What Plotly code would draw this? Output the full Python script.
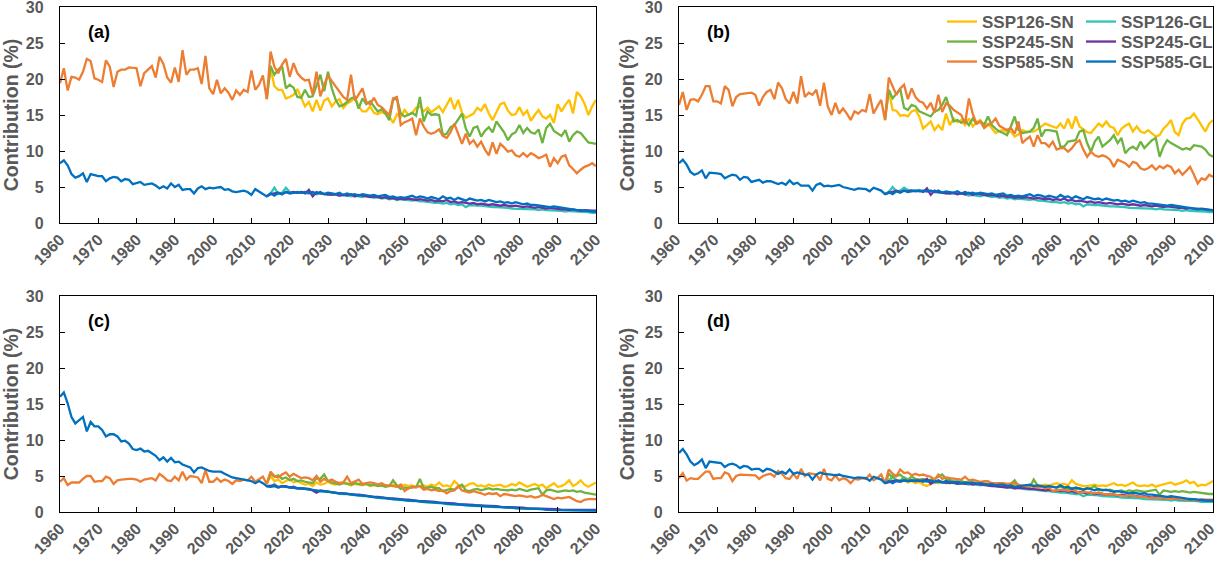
import plotly.graph_objects as go

YEARS_HIST = list(range(1960, 2015))
YEARS_FUT = list(range(2015, 2101))
SERIES = ["SSP126-SN", "SSP126-GL", "SSP245-SN", "SSP245-GL", "SSP585-SN", "SSP585-GL"]
PANEL_LABELS = ["(a)", "(b)", "(c)", "(d)"]

# ---------------- panel (a) ----------------
a_hist_sn = [19.4, 21.5, 18.4, 20.3, 20.2, 19.9, 21.0, 22.8, 22.5, 20.1,
             19.9, 19.6, 22.6, 21.7, 18.9, 21.0, 21.3, 21.3, 21.6, 21.6,
             21.5, 19.0, 20.8, 21.3, 21.8, 20.2, 23.1, 22.1, 20.2, 19.5,
             21.6, 19.6, 24.0, 20.6, 21.3, 21.3, 21.5, 19.3, 23.2, 18.7,
             17.9, 19.9, 18.0, 18.7, 18.1, 17.1, 18.4, 17.8, 18.5, 18.2,
             21.2, 18.5, 19.2, 20.5, 17.2]
a_hist_gl = [8.3, 8.7, 8.0, 6.8, 6.3, 6.5, 6.9, 5.7, 6.8, 6.6,
             6.5, 6.5, 5.8, 6.2, 6.4, 6.3, 5.8, 6.1, 6.0, 5.4,
             5.5, 5.7, 5.3, 5.4, 5.5, 5.2, 4.8, 5.1, 4.8, 5.5,
             5.0, 5.3, 4.6, 4.7, 4.7, 4.1, 4.8, 5.1, 4.7, 4.9,
             4.8, 4.9, 5.0, 4.6, 4.7, 4.4, 4.3, 4.4, 4.5, 4.3,
             3.9, 4.7, 4.4, 4.1, 3.7]
a_sn126 = [21.5, 19.0, 18.5, 18.5, 17.3, 17.5, 17.8, 18.6, 17.5, 16.2,
           16.8, 15.5, 17.1, 15.6, 17.0, 17.3, 16.2, 16.9, 17.2, 16.0,
           16.6, 16.9, 17.5, 16.2, 15.5, 15.5, 16.2, 15.3, 15.1, 15.4,
           15.2, 14.8, 13.9, 15.1, 14.7, 15.7, 15.0, 15.3, 16.0, 16.2,
           15.5, 16.0, 15.4, 15.8, 16.2, 15.4, 16.5, 17.4, 15.8, 17.1,
           15.3, 14.6, 14.9, 15.2, 16.0, 15.6, 16.5, 15.2, 14.3, 15.4,
           16.5, 16.7, 15.6, 15.0, 15.1, 16.1, 15.0, 15.6, 14.2, 15.0,
           15.7, 14.8, 14.5, 15.0, 13.9, 16.5, 15.5, 16.4, 17.1, 15.2,
           18.2, 17.6, 16.6, 15.0, 16.2, 17.1]
a_sn245 = [21.8, 20.6, 21.3, 21.8, 18.7, 19.2, 18.8, 17.5, 17.4, 18.5,
           17.5, 17.6, 19.2, 20.6, 18.3, 21.0, 18.7, 17.1, 16.2, 16.4,
           16.8, 17.3, 17.5, 15.9, 17.3, 16.5, 16.9, 16.2, 15.5, 15.8,
           15.2, 14.3, 17.1, 17.3, 15.2, 14.8, 15.0, 15.3, 14.9, 17.5,
           14.1, 15.5, 15.0, 15.1, 15.0, 12.2, 12.4, 13.3, 13.6, 14.5,
           15.2, 13.1, 12.0, 13.2, 13.4, 12.0, 12.8, 13.3, 12.6, 14.1,
           13.4, 12.6, 11.5, 12.3, 12.6, 13.6, 12.5, 13.2, 12.6, 12.4,
           13.0, 11.1, 13.2, 13.8, 12.8, 12.5, 12.1, 12.9, 11.3, 12.2,
           12.7, 12.5, 11.9, 11.2, 11.1, 11.0]
a_sn585 = [23.8, 21.7, 20.8, 22.0, 22.8, 20.3, 22.2, 20.8, 20.2, 19.8,
           19.9, 17.8, 21.0, 17.6, 19.2, 20.5, 19.7, 19.0, 18.2, 17.5,
           17.1, 20.6, 17.0, 17.8, 18.7, 16.8, 16.5, 17.4, 16.4, 16.1,
           15.5, 15.0, 17.3, 17.5, 13.6, 14.0, 14.2, 14.5, 12.2, 14.5,
           13.4, 12.6, 12.4, 12.6, 13.0, 12.1, 11.8, 12.6, 13.8, 12.5,
           11.0, 12.4, 11.0, 11.5, 10.6, 11.3, 10.2, 9.4, 11.2, 9.6,
           11.0, 10.5, 9.9, 10.1, 9.4, 9.2, 9.7, 9.2, 9.7, 9.4,
           9.0, 9.2, 9.5, 7.8, 9.0, 8.3, 9.2, 9.4, 8.0, 7.5,
           6.9, 7.4, 7.8, 8.0, 8.3, 7.9]
a_gl126 = [4.1, 4.9, 4.0, 4.2, 4.9, 4.3, 4.2, 4.2, 4.3, 4.2,
           4.1, 4.2, 4.0, 4.1, 4.0, 3.9, 4.0, 3.9, 3.8, 3.9,
           3.8, 3.7, 3.8, 3.7, 3.6, 3.8, 3.6, 3.5, 3.6, 3.4,
           3.5, 3.3, 3.4, 3.2, 3.3, 3.2, 3.2, 3.1, 3.2, 3.0,
           3.0, 2.9, 2.9, 2.8, 2.8, 2.7, 2.8, 2.6, 2.7, 2.5,
           2.6, 2.2, 2.5, 2.4, 2.4, 2.4, 2.3, 2.3, 2.2, 2.2,
           2.2, 2.1, 2.1, 2.0, 2.0, 2.0, 2.0, 1.9, 1.9, 1.9,
           1.8, 1.9, 1.8, 1.8, 1.7, 1.8, 1.7, 1.6, 1.7, 1.6,
           1.6, 1.5, 1.5, 1.5, 1.4, 1.4]
a_gl245 = [4.0, 4.1, 4.2, 4.0, 4.3, 4.2, 4.3, 4.2, 4.3, 4.1,
           4.6, 3.7, 4.3, 4.1, 4.0, 4.0, 3.9, 4.0, 3.8, 3.9,
           3.8, 4.0, 3.7, 3.9, 3.8, 3.7, 3.6, 3.7, 3.6, 3.5,
           3.6, 3.4, 3.5, 3.3, 3.4, 3.3, 3.4, 3.3, 3.2, 3.3,
           3.2, 3.1, 3.2, 3.0, 3.1, 3.0, 3.2, 2.9, 3.0, 2.8,
           2.9, 2.8, 2.7, 2.8, 2.6, 2.7, 2.6, 2.5, 2.6, 2.5,
           2.4, 2.5, 2.4, 2.3, 2.4, 2.3, 2.2, 2.3, 2.2, 2.1,
           2.2, 2.1, 2.0, 2.1, 2.0, 2.0, 1.9, 1.9, 1.8, 1.9,
           1.8, 1.7, 1.8, 1.7, 1.7, 1.7]
a_gl585 = [4.1, 3.8, 4.2, 4.0, 4.3, 4.1, 4.2, 4.3, 4.2, 4.3,
           4.2, 4.3, 4.1, 4.3, 4.0, 4.2, 4.1, 4.0, 4.2, 3.9,
           4.1, 3.9, 4.0, 3.8, 4.0, 3.9, 3.8, 3.9, 3.7, 3.8,
           3.9, 3.6, 3.7, 3.5, 3.6, 3.5, 3.7, 3.8, 3.5, 3.7,
           3.6, 3.4, 3.6, 3.5, 3.3, 3.7, 3.4, 3.5, 3.2, 3.5,
           3.3, 3.1, 3.4, 3.2, 3.1, 3.2, 3.0, 3.2, 3.1, 2.9,
           3.0, 2.8, 2.9, 2.7, 2.9, 2.7, 2.6, 2.7, 2.5, 2.5,
           2.4, 2.4, 2.3, 2.2, 2.3, 2.2, 2.1, 2.0, 2.0, 1.9,
           1.8, 1.8, 1.7, 1.7, 1.6, 1.6]

# ---------------- panel (b) ----------------
b_hist_sn = [16.4, 18.2, 15.7, 17.1, 17.2, 16.9, 17.8, 19.0, 19.0, 16.9,
             16.9, 16.6, 19.0, 18.5, 16.2, 17.5, 17.9, 18.0, 18.0, 18.1,
             17.8, 16.3, 17.5, 18.2, 18.5, 17.2, 19.5, 18.7, 17.2, 16.6,
             18.2, 16.6, 20.4, 17.5, 18.1, 17.8, 18.5, 16.3, 19.5, 16.2,
             15.0, 16.7, 15.2, 15.9, 15.2, 14.3, 15.5, 15.2, 15.7, 15.5,
             17.9, 15.2, 16.2, 17.1, 14.3]
b_hist_gl = [8.3, 8.8, 8.1, 7.1, 6.7, 6.9, 7.3, 6.2, 7.0, 7.0,
             6.9, 6.8, 6.2, 6.5, 6.7, 6.6, 6.0, 6.4, 6.3, 5.7,
             5.8, 6.0, 5.6, 5.8, 5.8, 5.6, 5.4, 5.6, 5.3, 5.9,
             5.4, 5.6, 5.2, 5.2, 5.2, 4.5, 5.3, 5.5, 5.1, 5.2,
             5.1, 5.2, 5.3, 5.0, 4.9, 4.7, 4.6, 4.8, 4.8, 4.7,
             4.4, 4.9, 4.7, 4.5, 4.0]
b_sn126 = [18.4, 15.7, 15.6, 14.9, 15.0, 14.8, 15.5, 15.7, 14.8, 13.1,
           13.6, 14.1, 12.9, 13.6, 12.9, 15.2, 13.6, 14.5, 14.0, 14.3,
           13.6, 14.5, 13.4, 14.0, 14.3, 13.6, 13.8, 13.1, 12.5, 12.8,
           12.9, 12.7, 12.7, 12.0, 12.3, 12.9, 12.7, 12.7, 12.7, 13.0,
           13.4, 13.8, 13.6, 13.4, 13.2, 13.8, 13.1, 14.5, 13.1, 14.8,
           13.4, 13.0, 12.6, 12.5, 13.2, 13.8, 13.4, 14.1, 13.4, 13.2,
           12.2, 13.1, 13.5, 13.8, 12.7, 13.4, 12.7, 12.5, 12.9, 12.4,
           12.0, 12.2, 13.1, 13.6, 14.3, 12.6, 12.2, 13.8, 14.5, 14.6,
           15.2, 14.4, 13.6, 12.7, 13.8, 14.3]
b_sn245 = [18.5, 17.3, 18.0, 18.6, 16.0, 15.7, 16.4, 16.2, 15.5, 15.3,
           15.0, 14.8, 15.5, 15.7, 16.4, 17.5, 15.9, 14.1, 14.3, 13.9,
           14.3, 13.6, 14.5, 13.8, 14.1, 13.6, 14.8, 13.6, 13.1, 12.7,
           12.5, 12.2, 13.4, 14.8, 12.9, 12.5, 12.6, 12.7, 13.2, 14.5,
           12.0, 12.9, 12.9, 12.8, 12.7, 10.6, 10.6, 11.3, 11.4, 11.5,
           12.7, 12.9, 11.1, 9.9, 11.3, 12.0, 10.6, 11.0, 11.5, 12.2,
           11.1, 11.8, 9.7, 10.3, 10.6, 10.2, 11.3, 10.4, 10.9, 11.5,
           11.8, 9.2, 10.6, 11.5, 11.1, 10.8, 10.4, 10.2, 10.4, 10.2,
           10.8, 10.7, 10.6, 10.2, 9.5, 9.2]
b_sn585 = [20.2, 19.0, 17.8, 18.7, 19.2, 17.2, 18.7, 17.5, 16.9, 16.7,
           15.9, 16.7, 15.3, 17.8, 15.4, 16.6, 16.3, 15.7, 15.4, 15.0,
           13.8, 17.3, 15.2, 13.8, 14.1, 13.2, 13.6, 13.9, 14.5, 13.5,
           13.2, 12.9, 13.2, 12.4, 14.1, 11.1, 11.6, 12.0, 10.6, 12.2,
           11.1, 11.1, 10.6, 11.3, 10.2, 10.4, 10.4, 9.9, 10.4, 11.1,
           11.5, 10.2, 9.2, 9.9, 9.4, 9.2, 9.4, 9.2, 8.8, 7.8,
           8.8, 8.5, 8.3, 7.8, 8.5, 8.3, 7.6, 7.4, 7.6, 8.0,
           7.4, 7.9, 7.6, 8.0, 7.8, 6.9, 7.4, 6.7, 7.2, 7.8,
           6.7, 5.5, 6.2, 6.0, 6.7, 6.4]
b_gl126 = [4.3, 5.0, 4.4, 4.5, 4.9, 4.6, 4.5, 4.5, 4.6, 4.4,
           4.4, 4.5, 4.3, 4.3, 4.2, 4.1, 4.2, 4.1, 4.0, 4.1,
           3.9, 3.8, 3.9, 3.8, 3.7, 3.9, 3.7, 3.6, 3.7, 3.5,
           3.6, 3.4, 3.5, 3.3, 3.4, 3.3, 3.3, 3.2, 3.3, 3.1,
           3.1, 3.0, 3.0, 2.9, 2.9, 2.8, 2.9, 2.7, 2.8, 2.6,
           2.7, 2.3, 2.6, 2.5, 2.5, 2.5, 2.4, 2.4, 2.3, 2.3,
           2.3, 2.2, 2.2, 2.1, 2.1, 2.1, 2.1, 2.0, 2.0, 2.0,
           1.9, 2.0, 1.9, 1.9, 1.8, 1.9, 1.8, 1.7, 1.8, 1.7,
           1.7, 1.6, 1.6, 1.6, 1.5, 1.5]
b_gl245 = [4.2, 4.4, 4.5, 4.3, 4.5, 4.4, 4.5, 4.4, 4.5, 4.3,
           4.8, 3.9, 4.5, 4.3, 4.2, 4.2, 4.1, 4.2, 4.0, 4.1,
           4.0, 4.2, 3.9, 4.1, 4.0, 3.9, 3.8, 3.9, 3.8, 3.7,
           3.8, 3.6, 3.7, 3.5, 3.6, 3.5, 3.6, 3.5, 3.4, 3.5,
           3.4, 3.3, 3.4, 3.2, 3.3, 3.2, 3.4, 3.1, 3.2, 3.0,
           3.1, 3.0, 2.9, 3.0, 2.8, 2.9, 2.8, 2.7, 2.8, 2.7,
           2.6, 2.7, 2.6, 2.5, 2.6, 2.5, 2.4, 2.5, 2.4, 2.3,
           2.4, 2.3, 2.2, 2.3, 2.2, 2.2, 2.1, 2.1, 2.0, 2.1,
           2.0, 1.9, 2.0, 1.9, 1.9, 1.8]
b_gl585 = [4.3, 4.0, 4.4, 4.2, 4.5, 4.3, 4.4, 4.5, 4.4, 4.5,
           4.4, 4.5, 4.3, 4.5, 4.2, 4.4, 4.3, 4.2, 4.4, 4.1,
           4.3, 4.1, 4.2, 4.0, 4.2, 4.1, 4.0, 4.1, 3.9, 4.0,
           4.1, 3.8, 3.9, 3.7, 3.8, 3.7, 3.9, 4.0, 3.7, 3.9,
           3.8, 3.6, 3.8, 3.7, 3.5, 3.9, 3.6, 3.7, 3.4, 3.7,
           3.5, 3.3, 3.6, 3.4, 3.3, 3.4, 3.2, 3.4, 3.3, 3.1,
           3.2, 3.0, 3.1, 2.9, 3.1, 2.9, 2.8, 2.9, 2.7, 2.7,
           2.6, 2.6, 2.5, 2.4, 2.5, 2.4, 2.3, 2.2, 2.2, 2.1,
           2.0, 2.0, 1.9, 1.9, 1.8, 1.8]

# ---------------- panel (c) ----------------
c_hist_sn = [4.2, 4.7, 3.75, 4.1, 4.1, 4.1, 4.6, 5.0, 5.0, 4.2,
             4.3, 4.3, 4.9, 4.7, 3.9, 4.4, 4.5, 4.6, 4.6, 4.6,
             4.5, 4.2, 4.5, 4.6, 4.7, 4.4, 5.3, 4.9, 4.4, 4.3,
             4.9, 4.4, 5.6, 4.5, 5.0, 4.9, 4.8, 4.0, 5.8, 4.2,
             4.2, 4.7, 4.2, 4.5, 4.3, 3.9, 4.4, 4.3, 4.5, 4.4,
             4.9, 4.2, 4.5, 4.9, 3.9]
c_hist_gl = [16.0, 16.6, 15.1, 13.2, 12.3, 12.8, 13.2, 11.2, 12.5, 11.9,
             11.9, 11.4, 10.5, 10.8, 10.8, 10.5, 9.8, 9.9, 9.5, 8.75,
             8.6, 8.8, 8.4, 8.5, 8.2, 7.8, 7.2, 7.6, 7.0, 7.5,
             6.9, 7.0, 6.6, 6.4, 6.2, 5.5, 6.1, 6.2, 5.9, 5.7,
             5.6, 5.6, 5.6, 5.3, 5.0, 4.8, 4.7, 4.6, 4.6, 4.4,
             4.3, 4.0, 4.3, 4.0, 3.6]
c_sn126 = [5.0, 4.3, 4.5, 4.0, 4.3, 4.6, 4.1, 4.3, 4.0, 3.8,
           3.9, 3.6, 4.1, 3.8, 3.9, 4.2, 3.9, 3.8, 4.0, 4.1,
           4.0, 3.7, 3.9, 3.8, 3.7, 3.9, 3.6, 3.7, 3.8, 3.6,
           3.7, 3.6, 3.8, 3.5, 3.6, 3.8, 3.6, 3.7, 3.5, 3.6,
           3.7, 3.5, 3.8, 3.6, 4.1, 3.6, 3.7, 3.5, 4.3, 3.8,
           3.5, 3.6, 3.9, 4.0, 3.6, 3.7, 3.5, 3.8, 3.6, 3.7,
           3.8, 3.5, 3.6, 3.9, 3.7, 4.1, 3.8, 3.5, 3.7, 3.9,
           3.6, 3.8, 3.3, 3.6, 4.0, 3.5, 3.6, 3.9, 4.4, 3.6,
           3.9, 4.4, 3.8, 3.5, 3.8, 4.1]
c_sn245 = [5.4, 4.9, 5.1, 4.6, 4.8, 4.4, 4.6, 4.3, 4.4, 4.2,
           4.1, 4.0, 4.7, 4.6, 5.2, 4.3, 4.1, 3.9, 3.8, 4.0,
           3.9, 3.8, 4.0, 3.9, 3.8, 3.9, 3.7, 3.8, 3.6, 3.7,
           3.5, 3.6, 4.4, 3.7, 3.2, 3.4, 3.3, 3.5, 3.4, 4.6,
           3.3, 3.4, 3.5, 3.3, 3.3, 2.9, 3.0, 3.2, 3.1, 3.4,
           3.8, 3.0, 2.9, 3.1, 3.2, 3.0, 3.1, 3.3, 3.1, 3.2,
           3.1, 3.0, 3.0, 3.1, 3.0, 3.2, 3.0, 2.9, 3.1, 3.2,
           3.3, 2.4, 3.0, 3.1, 3.0, 2.8, 2.9, 3.0, 2.9, 3.0,
           2.8, 2.9, 2.7, 2.6, 2.5, 2.4]
c_sn585 = [5.6, 5.0, 4.8, 5.2, 5.5, 4.9, 5.3, 5.0, 4.7, 4.8,
           4.7, 4.4, 5.0, 4.2, 4.6, 4.3, 4.5, 4.2, 4.0, 4.1,
           4.9, 4.0, 4.2, 4.5, 3.9, 4.0, 4.1, 4.0, 3.8, 4.0,
           3.7, 3.7, 3.6, 3.5, 3.8, 2.9, 3.3, 3.4, 3.5, 3.6,
           3.1, 3.2, 3.0, 3.1, 2.9, 3.0, 2.6, 2.9, 3.0, 3.6,
           3.0, 2.8, 2.7, 2.9, 2.8, 2.6, 2.4, 2.6, 2.5, 2.6,
           2.2, 2.5, 2.4, 2.3, 2.2, 2.3, 2.2, 2.1, 2.2, 2.0,
           2.1, 2.4, 2.2, 2.0, 1.8, 2.0, 1.9, 2.0, 2.1, 1.8,
           1.5, 1.4, 1.7, 1.8, 1.8, 1.8]
c_gl126 = [3.5, 3.9, 3.4, 3.6, 3.5, 3.4, 3.4, 3.3, 3.2, 3.2,
           3.1, 3.0, 3.0, 2.9, 2.8, 2.8, 2.7, 2.6, 2.6, 2.5,
           2.5, 2.4, 2.3, 2.3, 2.2, 2.2, 2.1, 2.0, 2.0, 1.9,
           1.9, 1.8, 1.8, 1.7, 1.7, 1.6, 1.6, 1.5, 1.5, 1.4,
           1.4, 1.3, 1.3, 1.3, 1.2, 1.2, 1.1, 1.1, 1.0, 1.0,
           1.0, 0.9, 0.9, 0.9, 0.8, 0.8, 0.8, 0.7, 0.7, 0.7,
           0.6, 0.6, 0.6, 0.6, 0.5, 0.5, 0.5, 0.5, 0.4, 0.4,
           0.4, 0.4, 0.4, 0.3, 0.3, 0.3, 0.3, 0.3, 0.3, 0.2,
           0.2, 0.2, 0.2, 0.2, 0.2, 0.2]
c_gl245 = [3.6, 3.7, 3.5, 3.5, 3.6, 3.4, 3.5, 3.3, 3.3, 3.2,
           3.2, 3.0, 2.7, 3.0, 2.9, 2.8, 2.8, 2.7, 2.6, 2.6,
           2.5, 2.5, 2.4, 2.4, 2.3, 2.2, 2.2, 2.1, 2.1, 2.0,
           2.0, 1.9, 1.9, 1.8, 1.8, 1.7, 1.7, 1.6, 1.6, 1.5,
           1.5, 1.5, 1.4, 1.4, 1.3, 1.3, 1.2, 1.2, 1.2, 1.1,
           1.1, 1.0, 1.0, 1.0, 0.9, 0.9, 0.9, 0.8, 0.8, 0.8,
           0.7, 0.7, 0.7, 0.6, 0.6, 0.6, 0.6, 0.5, 0.5, 0.5,
           0.5, 0.4, 0.4, 0.4, 0.4, 0.4, 0.3, 0.3, 0.3, 0.3,
           0.3, 0.3, 0.3, 0.3, 0.3, 0.3]
c_gl585 = [3.5, 3.6, 3.4, 3.6, 3.5, 3.4, 3.4, 3.3, 3.3, 3.2,
           3.1, 3.1, 3.0, 2.9, 2.9, 2.8, 2.7, 2.7, 2.6, 2.6,
           2.5, 2.5, 2.4, 2.3, 2.3, 2.2, 2.2, 2.1, 2.0, 2.0,
           1.9, 1.9, 1.8, 1.8, 1.7, 1.7, 1.6, 1.6, 1.5, 1.5,
           1.4, 1.4, 1.3, 1.3, 1.3, 1.2, 1.2, 1.1, 1.1, 1.0,
           1.0, 1.0, 0.9, 0.9, 0.9, 0.8, 0.8, 0.8, 0.7, 0.7,
           0.7, 0.6, 0.6, 0.6, 0.5, 0.5, 0.5, 0.5, 0.4, 0.4,
           0.4, 0.4, 0.3, 0.3, 0.3, 0.3, 0.3, 0.2, 0.2, 0.2,
           0.2, 0.2, 0.2, 0.2, 0.2, 0.2]

# ---------------- panel (d) ----------------
d_hist_sn = [4.7, 5.4, 4.35, 4.7, 4.6, 4.6, 5.1, 5.6, 5.6, 4.6,
             4.7, 4.7, 5.5, 5.3, 4.3, 5.0, 5.2, 5.2, 5.2, 5.2,
             5.1, 4.6, 5.0, 5.2, 5.3, 4.9, 5.7, 5.3, 4.7, 4.6,
             5.3, 4.6, 6.0, 5.0, 5.4, 5.3, 5.2, 4.4, 6.0, 4.6,
             4.4, 5.1, 4.4, 4.7, 4.5, 4.0, 4.6, 4.5, 4.7, 4.6,
             5.2, 4.4, 4.7, 5.2, 4.0]
d_hist_gl = [8.2, 8.75, 8.0, 7.0, 6.5, 6.8, 7.3, 6.1, 7.0, 6.9,
             6.8, 6.8, 6.25, 6.6, 6.7, 6.5, 6.1, 6.4, 6.3, 5.9,
             6.0, 6.0, 5.6, 6.0, 5.9, 5.6, 5.3, 5.6, 5.3, 5.9,
             5.3, 5.5, 5.3, 5.2, 5.2, 4.5, 5.2, 5.5, 5.3, 5.3,
             5.2, 5.1, 5.2, 5.0, 4.9, 4.7, 4.7, 4.8, 4.8, 4.7,
             4.35, 4.9, 4.7, 4.5, 4.0]
d_sn126 = [4.6, 4.3, 4.5, 4.2, 4.4, 4.1, 4.3, 4.0, 4.2, 3.8,
           3.6, 3.9, 4.1, 4.0, 4.2, 4.0, 4.1, 4.0, 4.1, 3.9,
           4.0, 4.1, 3.9, 4.0, 4.1, 3.9, 4.0, 3.9, 3.8, 3.9,
           3.8, 3.9, 3.7, 3.8, 3.6, 3.7, 3.6, 3.6, 3.7, 3.6,
           3.7, 3.8, 3.7, 3.9, 4.0, 3.8, 3.9, 3.7, 4.4, 3.9,
           3.7, 3.6, 3.6, 3.7, 3.8, 3.6, 3.7, 3.6, 3.8, 4.0,
           3.7, 3.8, 3.6, 3.9, 4.1, 3.7, 3.6, 3.7, 3.6, 3.8,
           3.5, 3.7, 3.8, 3.9, 4.1, 3.8, 3.9, 4.1, 4.4, 4.0,
           4.2, 3.6, 3.8, 3.7, 4.0, 4.3]
d_sn245 = [5.3, 4.8, 5.0, 5.2, 4.7, 4.5, 4.9, 4.6, 4.5, 4.6,
           4.4, 4.5, 4.6, 4.9, 5.2, 4.6, 4.4, 4.3, 4.2, 4.3,
           4.1, 4.2, 4.0, 4.1, 4.0, 3.9, 3.9, 3.8, 3.8, 3.9,
           3.8, 3.7, 3.9, 4.4, 3.6, 3.5, 3.6, 3.5, 4.5, 3.7,
           3.6, 3.5, 3.6, 3.5, 3.4, 3.5, 3.3, 3.2, 3.3, 3.2,
           3.3, 3.1, 3.2, 3.3, 3.6, 3.0, 3.1, 3.0, 3.1, 2.9,
           2.9, 3.0, 2.8, 3.0, 2.9, 3.0, 2.9, 2.8, 2.9, 3.0,
           3.1, 2.4, 3.0, 2.9, 2.8, 2.9, 2.8, 2.9, 2.8, 2.7,
           2.8, 2.7, 2.6, 2.6, 2.5, 2.5]
d_sn585 = [5.9, 5.3, 5.0, 5.9, 5.4, 5.5, 5.1, 5.3, 5.1, 5.2,
           5.0, 4.9, 4.5, 5.2, 4.6, 4.8, 4.7, 4.6, 4.6, 4.5,
           4.9, 4.4, 4.5, 4.3, 4.2, 4.3, 4.3, 4.0, 4.0, 4.1,
           4.0, 3.9, 4.0, 4.0, 3.8, 3.6, 3.6, 3.7, 3.5, 3.4,
           3.5, 3.3, 3.4, 2.9, 3.0, 3.1, 3.1, 2.9, 3.1, 2.9,
           2.7, 2.8, 2.7, 2.6, 2.6, 2.7, 2.5, 2.4, 2.5, 2.4,
           2.3, 2.3, 2.2, 2.3, 2.2, 2.1, 2.1, 2.1, 2.0, 1.9,
           2.0, 1.9, 1.9, 1.9, 1.8, 1.9, 1.8, 1.8, 1.7, 1.8,
           1.7, 1.6, 1.7, 1.7, 1.7, 1.7]
d_gl126 = [4.2, 5.0, 4.3, 4.4, 4.8, 4.5, 4.4, 4.3, 4.4, 4.3,
           4.2, 4.3, 4.1, 4.2, 4.1, 4.0, 4.1, 4.0, 3.9, 4.0,
           3.9, 3.8, 3.9, 3.8, 3.7, 3.8, 3.7, 3.6, 3.6, 3.5,
           3.5, 3.4, 3.4, 3.3, 3.3, 3.2, 3.2, 3.1, 3.1, 3.0,
           3.0, 2.9, 2.9, 2.8, 2.8, 2.7, 2.7, 2.6, 2.6, 2.5,
           2.5, 2.2, 2.4, 2.4, 2.3, 2.3, 2.2, 2.2, 2.1, 2.1,
           2.1, 2.0, 2.0, 2.0, 1.9, 1.9, 1.9, 1.8, 1.8, 1.8,
           1.7, 1.8, 1.7, 1.7, 1.6, 1.7, 1.6, 1.6, 1.6, 1.5,
           1.5, 1.5, 1.4, 1.4, 1.4, 1.4]
d_gl245 = [4.2, 4.3, 4.4, 4.3, 4.4, 4.3, 4.4, 4.3, 4.4, 4.2,
           4.6, 3.9, 4.3, 4.2, 4.1, 4.1, 4.0, 4.1, 3.9, 4.0,
           3.9, 4.0, 3.8, 3.9, 3.8, 3.7, 3.7, 3.6, 3.6, 3.5,
           3.5, 3.4, 3.5, 3.3, 3.4, 3.3, 3.3, 3.2, 3.2, 3.1,
           3.1, 3.0, 3.1, 2.9, 3.0, 2.9, 3.0, 2.8, 2.9, 2.7,
           2.8, 2.7, 2.6, 2.7, 2.5, 2.6, 2.5, 2.4, 2.5, 2.4,
           2.3, 2.4, 2.3, 2.2, 2.3, 2.2, 2.1, 2.2, 2.1, 2.0,
           2.1, 2.0, 1.9, 2.0, 1.9, 1.9, 1.8, 1.8, 1.7, 1.8,
           1.7, 1.6, 1.7, 1.6, 1.6, 1.6]
d_gl585 = [4.3, 4.0, 4.3, 4.2, 4.4, 4.3, 4.4, 4.4, 4.3, 4.4,
           4.3, 4.4, 4.2, 4.4, 4.1, 4.3, 4.2, 4.1, 4.2, 4.0,
           4.1, 4.0, 4.1, 3.9, 4.0, 3.9, 3.8, 3.9, 3.7, 3.8,
           3.8, 3.6, 3.7, 3.5, 3.6, 3.6, 3.7, 3.8, 3.6, 3.7,
           3.6, 3.5, 3.6, 3.5, 3.4, 3.7, 3.4, 3.5, 3.2, 3.4,
           3.3, 3.1, 3.3, 3.2, 3.0, 3.2, 3.0, 3.1, 2.9, 2.8,
           2.9, 2.8, 2.8, 2.6, 2.7, 2.6, 2.5, 2.6, 2.4, 2.4,
           2.3, 2.3, 2.2, 2.1, 2.2, 2.1, 2.0, 1.9, 1.9, 1.8,
           1.8, 1.7, 1.7, 1.6, 1.6, 1.6]

PANELS = [
    (a_hist_sn, a_hist_gl, a_sn126, a_gl126, a_sn245, a_gl245, a_sn585, a_gl585),
    (b_hist_sn, b_hist_gl, b_sn126, b_gl126, b_sn245, b_gl245, b_sn585, b_gl585),
    (c_hist_sn, c_hist_gl, c_sn126, c_gl126, c_sn245, c_gl245, c_sn585, c_gl585),
    (d_hist_sn, d_hist_gl, d_sn126, d_gl126, d_sn245, d_gl245, d_sn585, d_gl585),
]
for p in PANELS:
    assert len(p[0]) == len(YEARS_HIST) and len(p[1]) == len(YEARS_HIST)
    for s in p[2:]:
        assert len(s) == len(YEARS_FUT), len(s)

COLORS = {
    "SSP126-SN": "#FFC000",
    "SSP245-SN": "#6DB33F",
    "SSP585-SN": "#ED7D31",
    "SSP126-GL": "#2EC4B6",
    "SSP245-GL": "#7030A0",
    "SSP585-GL": "#0070C0",
}

W, H = 1219, 564
FONT = "Liberation Sans, Arial, sans-serif"
GREY = "#595959"

# plot-area boxes in pixels (left, right, top, bottom)
BOXES = [(60, 596, 7, 223), (679, 1213, 7, 223), (60, 596, 296, 512), (679, 1213, 296, 512)]
# legend rows: one horizontal legend per row, centred at these pixel heights
LEGEND_ROWS = [("legend", 22), ("legend2", 42), ("legend3", 62)]
ROW_OF = {"SSP126": "legend", "SSP245": "legend2", "SSP585": "legend3"}

fig = go.Figure()
for i, p in enumerate(PANELS):
    hist_sn, hist_gl = p[0], p[1]
    fut = dict(zip(SERIES, p[2:]))
    ax = "" if i == 0 else str(i + 1)
    for name in SERIES:
        hist = hist_sn if name.endswith("SN") else hist_gl
        if name.startswith("SSP585"):
            xs = YEARS_HIST + YEARS_FUT
            ys = hist + fut[name]
        else:
            xs = [YEARS_HIST[-1]] + YEARS_FUT
            ys = [hist[-1]] + fut[name]
        fig.add_trace(go.Scatter(
            x=xs, y=ys, mode="lines", name=name,
            line=dict(color=COLORS[name], width=2.3),
            xaxis="x" + ax, yaxis="y" + ax,
            showlegend=(i == 1),
            legend=ROW_OF[name[:6]],
            hoverinfo="skip",
        ))

layout = dict(
    width=W, height=H, margin=dict(l=0, r=0, t=0, b=0, autoexpand=False),
    paper_bgcolor="white", plot_bgcolor="white",
    font=dict(family=FONT, color=GREY),
    annotations=[],
)
for key, yc in LEGEND_ROWS:
    layout[key] = dict(
        orientation="h", x=942 / W, xanchor="left", y=1 - yc / H, yanchor="middle",
        bgcolor="rgba(0,0,0,0)", font=dict(size=17, color=GREY, weight="bold", family=FONT),
        itemwidth=30, entrywidth=94, entrywidthmode="pixels", traceorder="normal",
        borderwidth=0,
    )
for i, (l, r, t, b) in enumerate(BOXES):
    ax = "" if i == 0 else str(i + 1)
    layout["xaxis" + ax] = dict(
        domain=[l / W, r / W], anchor="y" + ax, range=[1960, 2100], automargin=False,
        tickmode="linear", tick0=1960, dtick=10, ticks="inside", ticklen=5,
        tickcolor="black", tickwidth=1.3, tickangle=-45, ticklabeloverflow="allow",
        ticklabelshift=(-3 if i % 2 == 1 else 0),
        tickfont=dict(size=16, color=GREY, weight="bold", family=FONT),
        showline=True, linecolor="black", linewidth=1.3, mirror=True,
        showgrid=False, zeroline=False,
    )
    layout["yaxis" + ax] = dict(
        domain=[1 - b / H, 1 - t / H], anchor="x" + ax, range=[0, 30], automargin=False,
        tickmode="linear", tick0=0, dtick=5, ticks="inside", ticklen=5,
        tickcolor="black", tickwidth=1.3, ticklabeloverflow="allow",
        tickfont=dict(size=16, color=GREY, weight="bold", family=FONT),
        ticklabelstandoff=12,
        showline=True, linecolor="black", linewidth=1.3, mirror=True,
        showgrid=False, zeroline=False,
        title=dict(text="Contribution (%)", standoff=5,
                   font=dict(size=19.5, color=GREY, weight="bold", family=FONT)),
    )
    layout["annotations"].append(dict(
        text=PANEL_LABELS[i], xref="paper", yref="paper",
        x=(l + 26) / W, y=1 - (t + 25) / H, xanchor="left", yanchor="middle",
        showarrow=False, font=dict(size=18, color="black", weight="bold", family=FONT),
    ))

fig.update_layout(**layout)
fig.write_html("out.html", config={"displayModeBar": False},
               post_script="document.body.style.margin='0';")
